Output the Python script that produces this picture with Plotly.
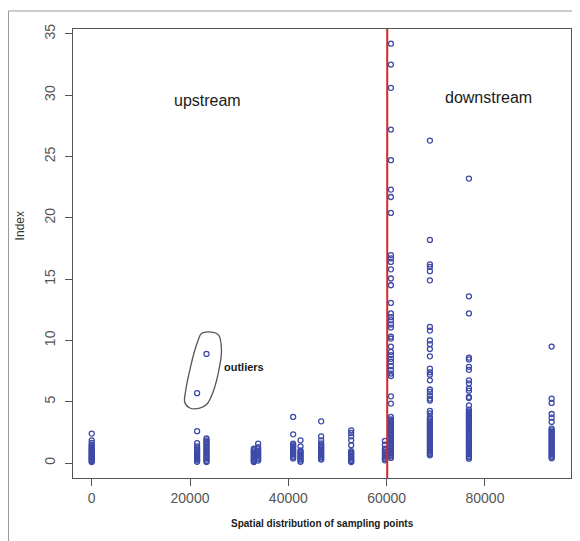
import plotly.graph_objects as go

# ---------------- data ----------------
site_positions = [0, 21440, 23350, 32980, 33860, 40980, 42480, 46680, 52790, 59650,
                  60870, 68800, 76740, 93570]

idx_0 = [2.4, 1.85, 1.65, 1.5, 1.38, 1.27, 1.17, 1.07, 0.97, 0.88, 0.79, 0.7, 0.61,
         0.52, 0.43, 0.34, 0.25, 0.16, 0.08]
idx_21440 = [5.7, 2.6, 1.63, 1.36, 1.2, 1.08, 0.97, 0.86, 0.75, 0.64, 0.53, 0.42, 0.31,
             0.2, 0.1]
idx_23350 = [8.9, 2.0, 1.85, 1.72, 1.6, 1.48, 1.36, 1.24, 1.12, 1.0, 0.88, 0.76, 0.64,
             0.52, 0.4, 0.28, 0.16, 0.08]
idx_32980 = [1.17, 1.05, 0.95, 0.85, 0.75, 0.65, 0.55, 0.45, 0.35, 0.25, 0.15, 0.08]
idx_33860 = [1.58, 1.3, 1.15, 1.02, 0.9, 0.78, 0.66, 0.54, 0.42, 0.3, 0.2]
idx_40980 = [3.76, 2.34, 1.58, 1.45, 1.33, 1.22, 1.1, 0.98, 0.86, 0.74, 0.62, 0.5, 0.38]
idx_42480 = [1.85, 1.36, 1.04, 0.92, 0.8, 0.68, 0.56, 0.44, 0.32, 0.2, 0.1]
idx_46680 = [3.4, 2.18, 1.85, 1.6, 1.45, 1.32, 1.2, 1.08, 0.96, 0.84, 0.72, 0.6, 0.48,
             0.36, 0.28]
idx_52790 = [2.67, 2.45, 2.18, 1.85, 1.45, 0.98, 0.86, 0.74, 0.62, 0.5, 0.38, 0.26,
             0.15, 0.08]
idx_59650 = [1.8, 1.5, 1.17, 1.05, 0.93, 0.81, 0.69, 0.57, 0.45, 0.33, 0.22]
idx_60870 = [34.2, 32.5, 30.6, 27.2, 24.7, 22.3, 21.7, 20.4, 16.96, 16.7, 16.4, 15.8,
             15.05, 14.5, 13.06, 12.2, 11.9, 11.65, 11.3, 11.05, 10.3, 10.15, 9.5, 9.06,
             8.8, 8.5, 8.25, 7.9, 7.6, 7.3, 7.1, 5.44, 4.85, 3.76, 3.55, 3.42, 3.3, 3.18,
             3.06, 2.94, 2.82, 2.7, 2.58, 2.46, 2.34, 2.22, 2.1, 1.98, 1.86, 1.74, 1.62,
             1.5, 1.38, 1.26, 1.14, 1.02, 0.9, 0.78, 0.66, 0.54, 0.42]
idx_68800 = [26.3, 18.2, 16.2, 16.0, 15.65, 14.9, 11.1, 10.8, 10.0, 9.7, 9.3, 8.7, 7.7,
             7.4, 7.2, 6.75, 6.0, 5.8, 5.5, 5.25, 5.1, 4.25, 4.05, 3.75, 3.6, 3.48, 3.36,
             3.24, 3.12, 3.0, 2.88, 2.76, 2.64, 2.52, 2.4, 2.28, 2.16, 2.04, 1.92, 1.8,
             1.68, 1.56, 1.44, 1.32, 1.2, 1.08, 0.96, 0.84, 0.72, 0.63]
idx_76740 = [23.2, 13.6, 12.2, 8.6, 8.45, 7.85, 7.6, 6.75, 6.5, 6.1, 5.9, 5.4, 5.3, 4.7,
             4.35, 4.2, 4.08, 3.96, 3.84, 3.72, 3.6, 3.48, 3.36, 3.24, 3.12, 3.0, 2.88,
             2.76, 2.64, 2.52, 2.4, 2.28, 2.16, 2.04, 1.92, 1.8, 1.68, 1.56, 1.44, 1.32,
             1.2, 1.08, 0.96, 0.84, 0.72, 0.6, 0.48, 0.36]
idx_93570 = [9.5, 5.25, 4.9, 4.0, 3.7, 3.35, 2.8, 2.67, 2.55, 2.43, 2.31, 2.19, 2.07,
             1.95, 1.83, 1.71, 1.59, 1.47, 1.35, 1.23, 1.11, 0.99, 0.87, 0.75, 0.63,
             0.51, 0.4]

site_values = [idx_0, idx_21440, idx_23350, idx_32980, idx_33860, idx_40980, idx_42480,
               idx_46680, idx_52790, idx_59650, idx_60870, idx_68800, idx_76740,
               idx_93570]

boundary_x = 60120  # split between upstream and downstream

x_ticks = [0, 20000, 40000, 60000, 80000]
y_ticks = [0, 5, 10, 15, 20, 25, 30, 35]

# freehand outline drawn around the outliers (data coordinates)
outline_x = [22330, 24410, 25850, 26400, 26060, 24690, 23410, 21980, 19950, 18930,
             19130, 19950, 20970, 21640, 22330]
outline_y = [10.56, 10.67, 10.42, 9.2, 7.97, 5.8, 4.79, 4.47, 4.49, 4.96, 5.93, 7.57,
             9.2, 10.0, 10.56]

# ---------------- figure ----------------
xs, ys = [], []
for pos, vals in zip(site_positions, site_values):
    xs.extend([pos] * len(vals))
    ys.extend(vals)

FONT = "Liberation Sans, Arial, sans-serif"
PT = "#3d4aa8"
fig = go.Figure()
fig.add_trace(go.Scatter(
    x=xs, y=ys, mode="markers",
    marker=dict(symbol="circle-open", size=5, color=PT,
                line=dict(width=1.3, color=PT)),
    showlegend=False, hoverinfo="x+y"))

fig.add_trace(go.Scatter(
    x=outline_x, y=outline_y, mode="lines",
    line=dict(color="#555555", width=1.3, shape="spline", smoothing=1.0),
    showlegend=False, hoverinfo="skip"))

fig.add_vline(x=boundary_x, line=dict(color="#d02a2a", width=2))

# outer frame (left/top edges visible)
fig.add_shape(type="rect", xref="paper", yref="paper",
              x0=-0.1295, x1=1.05, y0=-0.2, y1=1.0401,
              line=dict(color="#9a9a9a", width=1), layer="below")

fig.add_annotation(x=23610, y=29.6, text="upstream", showarrow=False,
                   font=dict(family=FONT, size=16, color="#1a1a1a"))
fig.add_annotation(x=80815, y=29.8, text="downstream", showarrow=False,
                   font=dict(family=FONT, size=16, color="#1a1a1a"))
fig.add_annotation(x=31000, y=7.84, text="<b>outliers</b>", showarrow=False,
                   font=dict(family=FONT, size=11, color="#1a1a1a"))

fig.add_annotation(xref="paper", yref="paper", x=0.5, y=-0.101,
                   text="<b>Spatial distribution of sampling points</b>", showarrow=False,
                   yanchor="middle",
                   font=dict(family=FONT, size=10, color="#1a1a1a"))
fig.add_annotation(xref="paper", yref="paper", x=-0.107, y=0.562,
                   text="Index", showarrow=False, textangle=-90, xanchor="center",
                   font=dict(family=FONT, size=12, color="#333333"))

fig.update_layout(
    width=572, height=533,
    margin=dict(l=65, r=9, t=21, b=63),
    paper_bgcolor="white", plot_bgcolor="white",
    font=dict(family=FONT),
    xaxis=dict(range=[-3807, 97506], tickvals=x_ticks,
               ticktext=[str(v) for v in x_ticks],
               showgrid=False, zeroline=False,
               showline=True, mirror=True, linecolor="#555555", linewidth=1.3,
               ticks="outside", ticklen=7, tickcolor="#555555", tickwidth=1,
               tickfont=dict(size=14, color="#555555")),
    yaxis=dict(range=[-1.22, 35.4], tickvals=y_ticks,
               showgrid=False, zeroline=False,
               showline=True, mirror=True, linecolor="#555555", linewidth=1.3,
               ticks="outside", ticklen=7, tickcolor="#555555", tickwidth=1,
               tickangle=-90, ticklabelstandoff=4,
               tickfont=dict(size=14, color="#555555")),
)

fig.write_html("out.html")
